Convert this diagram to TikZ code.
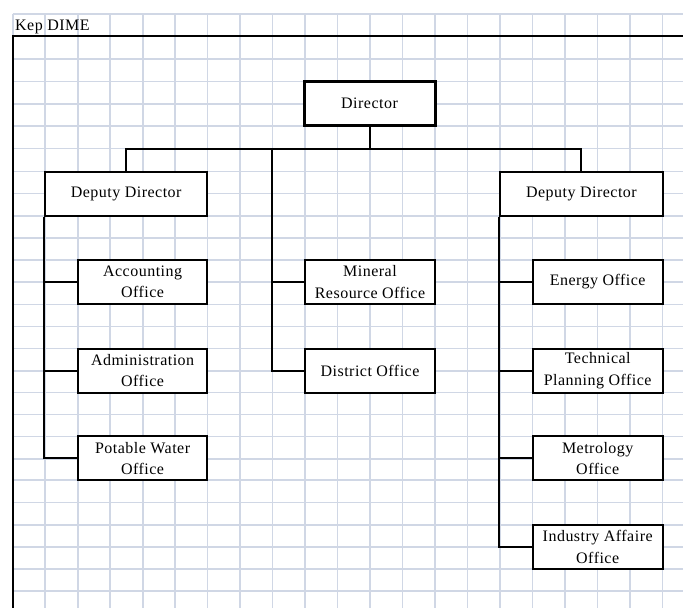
\documentclass[tikz,border=0pt]{standalone}
\usepackage{fontspec}
\setmainfont{Liberation Serif}[LetterSpace=3]
\definecolor{gridblue}{RGB}{208,215,229}
\begin{document}
\begin{tikzpicture}[x=1pt,y=-1pt,
  gridline/.style={draw=gridblue,line width=1.7pt},
  link/.style={draw=black,line width=2pt},
  unit/.style={draw=black,fill=white,line width=2pt,rectangle,inner sep=0pt,
    minimum width=130pt,minimum height=44pt,align=center,
    font=\fontsize{16}{21.5}\selectfont},
  head/.style={unit,line width=3pt,minimum width=131pt},
  deputy/.style={unit,minimum width=162.5pt}]
\useasboundingbox (0,0) rectangle (683,608);
\clip (0,0) rectangle (683,608);

% worksheet grid
\foreach \k in {0,...,20}
  \draw[gridline] ({12.7+32.49*\k},14) -- ({12.7+32.49*\k},608);
\foreach \y in {14,36,59,81.5,104,126,148.5,171.5,193.5,216,238,260,282,304.5,
    326.5,348.5,371,392.5,414.5,436.5,459,480,502.5,525,547,569,591}
  \draw[gridline] (12.7,\y) -- (683,\y);

% chart frame and title
\draw[line width=2pt] (12.7,608) -- (12.7,35.5) -- (683,35.5);
\node[anchor=base west,inner sep=0pt,font=\fontsize{16}{18}\selectfont] (title) at (15,30) {Kep DIME};

% junction points
\coordinate (bar) at (0,148.5);
\coordinate (mt) at (272,148.5);

% boxes
\node[head] (dir) at (369.5,103) {Director};
\node[deputy] (depL) at (126.2,193.5) {Deputy Director};
\node[deputy] (depR) at (581.4,193.5) {Deputy Director};

\node[unit,minimum width=129pt] (acc) at (142.6,282) {Accounting\\Office};
\node[unit,minimum width=129pt] (adm) at (142.6,370.5) {Administration\\Office};
\node[unit,minimum width=129pt] (pot) at (142.6,458.3) {Potable Water\\Office};

\node[unit] (min) at (370,282) {Mineral\\Resource Office};
\node[unit] (dist) at (370,370.5) {District Office};

\node[unit] (ene) at (597.7,282) {Energy Office};
\node[unit] (tec) at (597.7,370.5) {Technical\\Planning Office};
\node[unit] (met) at (597.7,458.3) {Metrology\\Office};
\node[unit] (ind) at (597.7,547) {Industry Affaire\\Office};

% connectors
\draw[link] (dir.south) -- (dir.south |- bar);
\draw[link] (depL.north) -- (depL.north |- bar) -- (depR.north |- bar) -- (depR.north);
\draw[link] (mt) |- (dist.west);
\draw[link] (min.west) -- (min.west -| mt);

\draw[link] (depL.south west) |- (pot.west);
\draw[link] (acc.west) -- (acc.west -| depL.south west);
\draw[link] (adm.west) -- (adm.west -| depL.south west);

\draw[link] (depR.south west) |- (ind.west);
\draw[link] (ene.west) -- (ene.west -| depR.south west);
\draw[link] (tec.west) -- (tec.west -| depR.south west);
\draw[link] (met.west) -- (met.west -| depR.south west);
\end{tikzpicture}
\end{document}
